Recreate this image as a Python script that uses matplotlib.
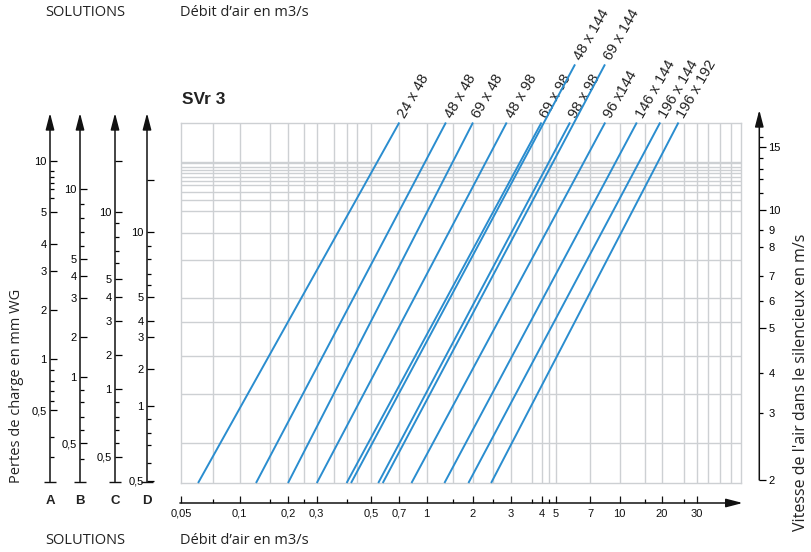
import numpy as np
import matplotlib
matplotlib.use("Agg")
import matplotlib.pyplot as plt

# ---------------- data ----------------
sizes = ["24 x 48", "48 x 48", "69 x 48", "48 x 98", "69 x 98", "48 x 144",
         "98 x 98", "69 x 144", "96 x144", "146 x 144", "196 x 144", "196 x 192"]
# air flow (m3/s) where each silencer line starts (2 m/s) and where it ends
flow_low = [0.060, 0.125, 0.20, 0.30, 0.40, 0.42, 0.545, 0.575, 0.82, 1.31, 1.87, 2.44]
flow_high = [0.70, 1.34, 2.0, 2.87, 4.0, 6.05, 5.76, 8.38, 8.4, 13.2, 19.4, 23.6]
vel_low = [2] * 12
vel_high = [17, 17, 17, 17, 17, 24, 17, 24, 17, 17, 17, 17]
VEL_MIN, VEL_MAX = 2, 17

flow_ticks = [0.05, 0.1, 0.2, 0.3, 0.5, 0.7, 1, 2, 3, 4, 5, 7, 10, 20, 30]
flow_tick_labels = ["0,05", "0,1", "0,2", "0,3", "0,5", "0,7", "1", "2", "3", "4",
                    "5", "7", "10", "20", "30"]
flow_minor_ticks = [0.07, 0.15, 0.25, 0.4, 1.5, 2.5, 3.5, 4.5, 15, 25]
flow_grid = [0.07, 0.1, 0.15, 0.2, 0.25, 0.3, 0.35, 0.4, 0.45, 0.5, 0.7, 1, 1.5, 2,
             2.5, 3, 3.5, 4, 4.5, 5, 7, 10, 15, 20, 25, 30, 35, 40, 45]
vel_grid = [2.54, 3.39, 4.25, 5.19, 5.99, 7.51, 8.81, 10.05, 10.73, 11.27, 11.73,
            12.03, 12.32, 12.57, 12.82, 13.08, 13.34, 13.47]

vel_major = [2, 5, 10, 15]
vel_major_labels = ["2", "5", "10", "15"]
vel_minor = [3, 4, 6, 7, 8, 9, 11, 12, 13, 14, 16]
vel_minor_labels = ["3", "4", "6", "7", "8", "9", "", "", "", "", ""]

a_major = [0.5, 1, 2, 3, 4, 5, 10]
a_labels = ["0,5", "1", "2", "3", "4", "5", "10"]
a_minor = [0.3, 0.4, 0.6, 0.7, 0.8, 0.9, 5.5, 6, 7, 8, 9]
b_major = [0.5, 1, 2, 3, 4, 5, 10]
b_labels = ["0,5", "1", "2", "3", "4", "5", "10"]
b_minor = [0.4, 0.6, 0.7, 0.8, 0.9, 6, 7, 8, 9]
c_major = [0.5, 1, 2, 3, 4, 5, 10, 20]
c_labels = ["0,5", "1", "2", "3", "4", "5", "10", ""]
c_minor = [0.6, 0.7, 0.8, 0.9, 6, 7, 8, 9]
d_major = [0.5, 1, 2, 3, 4, 5, 10, 20]
d_labels = ["0,5", "1", "2", "3", "4", "5", "10", ""]
d_minor = [0.6, 0.7, 0.8, 0.9, 6, 7, 8, 9]

# ---------------- scale calibration of the (hand drawn) nomogram axes ----------------
x_cal_v = [0.05, 0.07, 0.1, 0.15, 0.2, 0.25, 0.3, 0.35, 0.4, 0.45, 0.5, 0.7, 1, 1.5, 2,
           2.5, 3, 3.5, 4, 4.5, 5, 7, 10, 15, 20, 25, 30, 35, 40, 45, 50]
x_cal_p = [181, 212.5, 239.5, 269.5, 288, 304.2, 316.8, 334, 346.6, 357.3, 371, 399.3,
           426.7, 453.3, 473, 493.3, 511, 532.2, 541.5, 548.8, 555.5, 590, 619.7, 644.7,
           662, 684.2, 696.7, 708.3, 720, 731, 741]
v_cal_v = [2, 3, 4, 5, 6, 7, 8, 9, 10, 11, 12, 13, 14, 15, 16]
v_cal_p = [480, 413.3, 373.3, 328.3, 301, 275.7, 246.7, 230, 210, 192.7, 179.3, 169.3,
           158.3, 147.3, 136.7]
a_cal_v = [0.3, 0.4, 0.5, 0.6, 0.7, 0.8, 0.9, 1, 2, 3, 4, 5, 5.5, 6, 7, 8, 9, 10]
a_cal_p = [456.7, 436.7, 410, 401, 391, 381, 370, 359.3, 310, 270.7, 244, 211.7, 197.7,
           189.3, 182.7, 176.7, 171, 161]
b_cal_v = [0.4, 0.5, 0.6, 0.7, 0.8, 0.9, 1, 2, 3, 4, 5, 6, 7, 8, 9, 10]
b_cal_p = [459.3, 443.3, 430, 417.3, 401.7, 390, 377.3, 336.7, 298.3, 275.7, 259.3,
           245.7, 231.7, 217.7, 204, 189]
c_cal_v = [0.5, 0.6, 0.7, 0.8, 0.9, 1, 2, 3, 4, 5, 6, 7, 8, 9, 10, 20]
c_cal_p = [456.7, 442.7, 430, 416.7, 401.7, 389.3, 355, 320.5, 296.7, 279, 263.3,
           250.7, 236.7, 222.7, 212.3, 161]
d_cal_v = [0.5, 0.6, 0.7, 0.8, 0.9, 1, 2, 3, 4, 5, 6, 7, 8, 9, 10, 20]
d_cal_p = [481, 462.7, 445, 432.7, 419.3, 406, 369.3, 336.7, 320.7, 297.3, 285, 274,
           259.3, 245.7, 232.3, 180]

W, H = 811, 552
BLUE = "#2a8dcf"
GRID = "#cdd0d3"
NUM_FONT = "Liberation Sans"
TXT_FONT = "Open Sans"


def _interp_ext(x, xp, fp):
    x = np.asarray(x, dtype=float)
    y = np.interp(x, xp, fp)
    s0 = (fp[1] - fp[0]) / (xp[1] - xp[0])
    s1 = (fp[-1] - fp[-2]) / (xp[-1] - xp[-2])
    y = np.where(x < xp[0], fp[0] + (x - xp[0]) * s0, y)
    y = np.where(x > xp[-1], fp[-1] + (x - xp[-1]) * s1, y)
    return y


def calibrated(values, pix, sign):
    lv = np.log10(np.asarray(values, float))
    p = sign * np.asarray(pix, float)
    order = np.argsort(lv)
    lv, p = lv[order], p[order]

    def fwd(v):
        v = np.asarray(v, float)
        with np.errstate(divide="ignore", invalid="ignore"):
            l = np.log10(np.where(v > 0, v, 1e-12))
        return _interp_ext(l, lv, p)

    def inv(q):
        return 10 ** _interp_ext(q, p, lv)

    return fwd, inv


def rect(x0, y0, x1, y1):
    return [x0 / W, 1 - y1 / H, (x1 - x0) / W, (y1 - y0) / H]


def arrow(ax, start, end):
    ax.annotate("", xy=end, xytext=start, xycoords="axes fraction",
                arrowprops=dict(arrowstyle="-|>,head_length=0.5,head_width=0.13",
                                mutation_scale=20, lw=1.1, color="#111111",
                                shrinkA=0, shrinkB=0), annotation_clip=False)


def bare(ax):
    ax.set_facecolor("none")
    for s in ax.spines.values():
        s.set_visible(False)


fig = plt.figure(figsize=(W / 100, H / 100), dpi=100)

# ---------------- main grid ----------------
xf, xi = calibrated(x_cal_v, x_cal_p, 1)
ax = fig.add_axes(rect(181, 122.5, 741, 483))
ax.set_xscale("function", functions=(xf, xi))
ax.set_xlim(float(xi(181)), float(xi(741)))
ax.set_yscale("log")
ax.set_ylim(VEL_MIN, VEL_MAX)
ax.set_xticks([])
ax.set_yticks([])
ax.set_xticks(flow_grid, minor=True)
ax.set_yticks(vel_grid, minor=True)
ax.tick_params(which="both", length=0, labelbottom=False, labelleft=False)
ax.grid(which="minor", color=GRID, lw=1.0)
ax.set_axisbelow(True)
for s in ax.spines.values():
    s.set_color(GRID)
    s.set_linewidth(1.0)

for name, q0, q1, v0, v1 in zip(sizes, flow_low, flow_high, vel_low, vel_high):
    ax.plot([q0, q1], [v0, v1], color=BLUE, lw=1.4, clip_on=False,
            solid_capstyle="butt", zorder=3)
    ax.annotate(name, xy=(q1, v1), xytext=(1.8, 4.0), textcoords="offset points",
                rotation=60, rotation_mode="anchor", ha="left", va="center",
                fontsize=10.5, family=NUM_FONT, color="#222222",
                annotation_clip=False)

# ---------------- flow axis (bottom) ----------------
axq = fig.add_axes(rect(181, 493, 741, 503))
bare(axq)
axq.set_xscale("function", functions=(xf, xi))
axq.set_xlim(float(xi(181)), float(xi(741)))
axq.set_yticks([])
axq.set_xticks(flow_ticks, labels=flow_tick_labels)
axq.set_xticks(flow_minor_ticks, minor=True)
axq.tick_params(axis="x", which="major", direction="in", length=5, width=0.9,
                pad=4, labelsize=8, colors="#111111")
axq.tick_params(axis="x", which="minor", direction="in", length=3, width=0.9)
for lab in axq.get_xticklabels():
    lab.set_family(NUM_FONT)
arrow(axq, (-0.002, 0), (1.003, 0))

# ---------------- velocity axis (right) ----------------
vf, vi = calibrated(v_cal_v, v_cal_p, -1)
axv = fig.add_axes(rect(740, 110, 759.3, 480))
bare(axv)
axv.set_yscale("function", functions=(vf, vi))
axv.set_ylim(float(vi(-480)), float(vi(-110)))
axv.set_xticks([])
axv.yaxis.tick_right()
axv.set_yticks(vel_major, labels=vel_major_labels)
axv.set_yticks(vel_minor, labels=vel_minor_labels, minor=True)
axv.tick_params(axis="y", which="major", direction="out", length=5, width=0.9,
                pad=1.5, labelsize=8)
axv.tick_params(axis="y", which="minor", direction="out", length=3, width=0.9,
                pad=3.5, labelsize=8)
for lab in axv.get_yticklabels(which="both"):
    lab.set_family(NUM_FONT)
arrow(axv, (1, 0), (1, 1))

# ---------------- pressure drop axes A-D (left) ----------------
dp_axes = [
    ("A", 50, a_cal_v, a_cal_p, a_major, a_labels, a_minor),
    ("B", 80, b_cal_v, b_cal_p, b_major, b_labels, b_minor),
    ("C", 115, c_cal_v, c_cal_p, c_major, c_labels, c_minor),
    ("D", 147, d_cal_v, d_cal_p, d_major, d_labels, d_minor),
]
for letter, xpix, cv, cp, maj, labs, mnr in dp_axes:
    f, i = calibrated(cv, cp, -1)
    a = fig.add_axes(rect(xpix, 113, xpix + 10, 481.7))
    bare(a)
    a.set_yscale("function", functions=(f, i))
    a.set_ylim(float(i(-481.7)), float(i(-113)))
    a.set_xticks([])
    a.set_yticks(maj, labels=labs)
    a.set_yticks(mnr, minor=True)
    a.tick_params(axis="y", which="major", direction="in", length=5, width=0.9,
                  pad=2.5, labelsize=8)
    a.tick_params(axis="y", which="minor", direction="in", length=3.2, width=0.9)
    for lab in a.get_yticklabels():
        lab.set_family(NUM_FONT)
    arrow(a, (0, 0), (0, 1))
    a.plot([0], [0], marker="_", ms=8, mew=1.0, color="#111111",
           transform=a.transAxes, clip_on=False)
    fig.text(xpix / W, 1 - 501.5 / H, letter, ha="center", va="center",
             fontsize=9.5, fontweight="bold", family=NUM_FONT, color="#222222")

# ---------------- texts ----------------
for ypix in (13, 541):
    fig.text(45 / W, 1 - ypix / H, "SOLUTIONS", ha="left", va="center",
             fontsize=10.5, family=TXT_FONT, color="#222222")
    fig.text(180 / W, 1 - ypix / H, "Débit d’air en m3/s", ha="left", va="center",
             fontsize=10.5, family=TXT_FONT, color="#222222")
fig.text(182 / W, 1 - 99.5 / H, "SVr 3", ha="left", va="center", fontsize=12.5,
         fontweight="bold", family=NUM_FONT, color="#222222")
fig.text(17 / W, 1 - 483 / H, "Pertes de charge en mm WG", rotation=90,
         ha="center", va="bottom", fontsize=10.5, family=TXT_FONT, color="#222222")
fig.text(801 / W, 1 - 382 / H, "Vitesse de l'air dans le silencieux en m/s",
         rotation=90, ha="center", va="center", fontsize=11.5, family=TXT_FONT,
         color="#222222")

fig.savefig("out.png", dpi=100)
